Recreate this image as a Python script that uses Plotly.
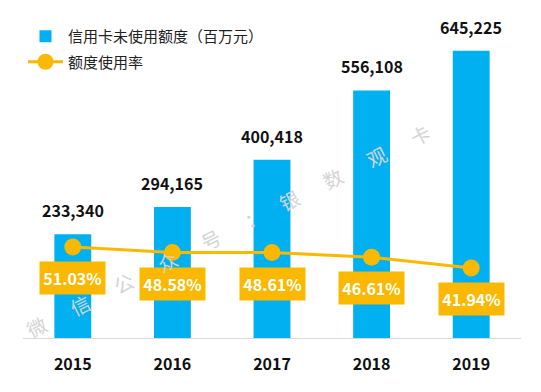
import plotly.graph_objects as go

years = ["2015", "2016", "2017", "2018", "2019"]
unused = [233340, 294165, 400418, 556108, 645225]
usage_rate = [51.03, 48.58, 48.61, 46.61, 41.94]
bar_name = "信用卡未使用额度（百万元）"
line_name = "额度使用率"
watermark = "微 信 公 众 号 ： 银 数 观 卡"

BLUE = "#00B0F0"
ORANGE = "#FAB900"
CJK = "Noto Sans CJK SC"

fig = go.Figure()
fig.add_trace(go.Bar(x=years, y=unused, name=bar_name, marker_color=BLUE,
                     marker_line_width=0, yaxis="y", legendgroup="a"))
fig.add_trace(go.Scatter(x=years, y=usage_rate, name=line_name, mode="lines+markers",
                         line=dict(color=ORANGE, width=3), legendgroup="b",
                         marker=dict(color=ORANGE, size=17), yaxis="y2"))

ann = []
for i, v in enumerate(unused):
    ann.append(dict(x=i, y=v, xref="x", yref="y", text=f"<b>{v:,}</b>",
                    showarrow=False, yanchor="bottom", yshift=10,
                    font=dict(family=CJK, size=16, color="#111111")))
for i, p in enumerate(usage_rate):
    ann.append(dict(x=i, y=p, xref="x", yref="y2", text=f"<b>{p:.2f}%</b>",
                    showarrow=False, yanchor="middle", yshift=-31,
                    width=63, height=30, bgcolor=ORANGE,
                    font=dict(family=CJK, size=16, color="white")))
ann.append(dict(x=0.412, y=0.337, xref="paper", yref="paper",
                text=watermark.replace(" ", "\u3000\u2002"), showarrow=False,
                textangle=-26.6, font=dict(family=CJK, size=19.5, color="rgb(212,212,212)")))

fig.update_layout(
    width=533, height=384,
    margin=dict(l=15, r=20, t=12, b=54),
    paper_bgcolor="white", plot_bgcolor="white",
    bargap=0.63,
    showlegend=True,
    legend=dict(x=0.0, y=1.0, xanchor="left", yanchor="top",
                font=dict(family=CJK, size=15, color="#222222"),
                bgcolor="rgba(0,0,0,0)", traceorder="grouped", tracegroupgap=3,
                itemwidth=35),
    xaxis=dict(type="category", range=[-0.5, 4.5], showgrid=False,
               showline=True, linecolor="#D9D9D9", linewidth=1,
               ticks="outside", ticklen=12, tickcolor="rgba(0,0,0,0)",
               tickfont=dict(family=CJK, size=16, color="#111111"),
               tickprefix="<b>", ticksuffix="</b>"),
    yaxis=dict(range=[0, 714500], visible=False, showgrid=False),
    yaxis2=dict(range=[11.6, 149.3], overlaying="y", visible=False, showgrid=False),
    annotations=ann,
    font=dict(family=CJK),
)

fig.write_html("out.html")
